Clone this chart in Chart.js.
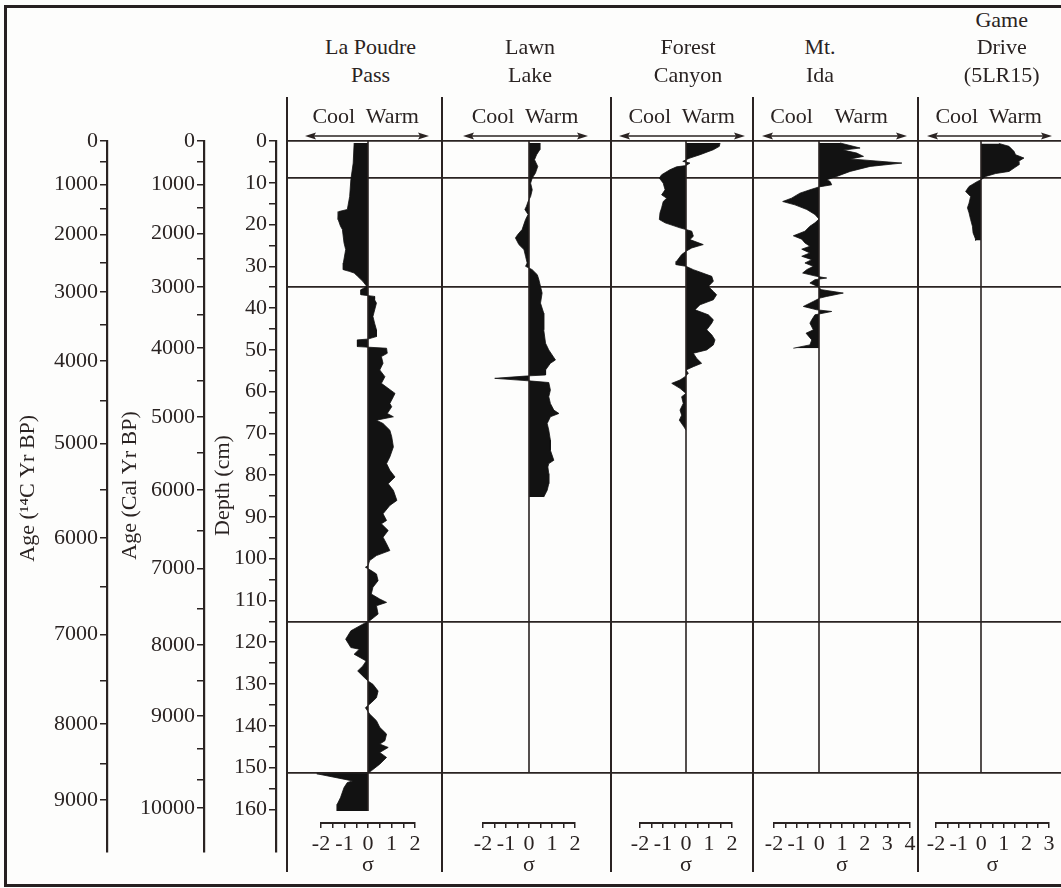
<!DOCTYPE html>
<html>
<head>
<meta charset="utf-8">
<script src="https://cdn.jsdelivr.net/npm/chart.js@4.4.1/dist/chart.umd.min.js"></script>
<style>
html,body{margin:0;padding:0;background:#fdfdfc;overflow:hidden;width:1061px;height:888px;}
#root{position:relative;width:1061px;height:888px;overflow:hidden;background:#fdfdfc;}
#frame{position:absolute;left:4px;top:5px;width:1120px;height:882px;border:3px solid #262021;box-sizing:border-box;}
.txt{position:absolute;font-family:"Liberation Serif","Times New Roman",serif;font-size:22px;line-height:22px;color:#2a2322;white-space:pre;transform:translateX(-50%);}
canvas{position:absolute;}
</style>
</head>
<body>
<div id="root"><div id="frame"></div></div>
<script>
// ---------------- DATA ----------------
const sites = ['La Poudre Pass', 'Lawn Lake', 'Forest Canyon', 'Mt. Ida', 'Game Drive (5LR15)'];
const siteTitleLines = [['La Poudre', 'Pass'], ['Lawn', 'Lake'], ['Forest', 'Canyon'], ['Mt.', 'Ida'], ['Game', 'Drive', '(5LR15)']];
const headerText = 'Cool  Warm';

// La Poudre Pass: depth (cm) and standardized anomaly (sigma)
const lpDepth = [0.6, 5.4, 9.4, 13.4, 16.5, 17.0, 18.9, 20.5, 21.3, 24.5,
  26.1, 29.3, 30.9, 31.3, 31.7, 32.5, 33.7, 34.9, 35.7, 36.9,
  37.3, 38.1, 38.9, 42.1, 43.7, 45.3, 46.9, 47.5, 47.7, 49.3,
  49.7, 50.9, 51.7, 53.3, 54.9, 56.5, 58.1, 60.5, 61.3, 62.9,
  63.7, 65.3, 66.1, 66.9, 67.7, 69.3, 70.9, 73.3, 75.7, 77.3,
  78.9, 80.5, 82.1, 83.7, 86.1, 87.3, 89.3, 90.9, 91.7, 93.3,
  94.9, 96.5, 98.1, 99.3, 100.5, 101.7, 102.1, 102.9, 103.7, 105.3,
  106.9, 108.5, 109.7, 110.5, 111.3, 113.3, 114.9, 115.7, 117.3, 119.3,
  121.3, 121.7, 122.9, 124.5, 125.7, 126.9, 128.5, 129.3, 130.1, 131.7,
  133.3, 134.5, 135.7, 137.2, 138.8, 140.4, 142.0, 143.6, 144.4, 145.2,
  146.4, 147.6, 149.2, 150.8, 151.3, 151.5, 153.2, 153.6, 154.8, 157.2,
  158.8, 160.4];
const lpSigma = [-0.59, -0.63, -0.73, -0.78, -0.88, -1.24, -1.27, -1.17, -1.09, -1.02,
  -0.95, -1.05, -1.05, -0.80, -0.59, -0.44, -0.22, -0.05, -0.30, -0.30,
  0.28, 0.28, 0.36, 0.21, 0.28, 0.36, 0.36, 0, -0.45, -0.45,
  0.79, 0.82, 0.57, 0.64, 0.50, 0.72, 0.57, 1.15, 1.08, 0.93,
  1.01, 0.82, 1.08, 0.36, 0.64, 0.93, 1.01, 1.08, 0.93, 0.79,
  0.93, 1.15, 0.86, 1.08, 1.23, 0.93, 0.64, 0.79, 0.57, 0.86,
  0.64, 0.79, 0.93, 0.36, 0.07, 0, -0.11, 0.14, 0.36, 0.43,
  0.21, 0.14, 0.50, 0.79, 0.36, 0.43, 0.07, -0.22, -0.73, -0.95,
  -0.73, -0.37, -0.59, -0.08, -0.22, -0.44, -0.15, 0, 0.21, 0.43,
  0.36, 0.14, -0.11, 0.07, 0.36, 0.50, 0.79, 0.72, 0.50, 0.86,
  0.50, 0.79, 0.50, 0.14, 0, -2.18, -0.66, -0.88, -1.02, -1.17,
  -1.31, -1.31];

// Lawn Lake
const llDepth = [0.6, 2.2, 3.4, 4.6, 6.2, 7.8, 9.0, 10.2, 11.8, 13.4,
  14.6, 15.7, 16.5, 17.7, 18.9, 21.3, 22.5, 23.3, 24.9, 26.1,
  27.7, 29.3, 30.1, 30.5, 30.9, 32.1, 33.3, 34.9, 36.5, 38.9,
  41.3, 45.3, 48.5, 50.1, 52.5, 53.3, 54.9, 56.1, 56.3, 56.9,
  57.5, 57.9, 59.7, 61.3, 62.9, 64.5, 65.3, 66.1, 67.7, 69.3,
  71.7, 74.1, 76.5, 77.3, 78.1, 79.7, 82.1, 83.7, 85.3];
const llSigma = [0.47, 0.47, 0.33, 0.24, 0.38, 0.28, 0.14, 0.07, 0.14, 0.07,
  -0.04, -0.11, -0.18, -0.04, -0.15, -0.30, -0.49, -0.59, -0.44, -0.22,
  -0.15, -0.08, -0.15, 0, 0.14, 0.36, 0.43, 0.50, 0.57, 0.50,
  0.64, 0.64, 0.72, 0.86, 1.15, 0.93, 0.72, 0.72, 0, -1.49,
  0, 0.86, 0.93, 0.86, 0.93, 1.08, 1.30, 0.93, 0.79, 0.86,
  0.93, 0.93, 1.08, 0.86, 0.82, 0.86, 0.86, 0.79, 0.64];

// Forest Canyon
const fcDepth = [0.6, 1.4, 2.2, 3.4, 4.2, 4.6, 5.0, 5.4, 6.0, 6.3,
  7.0, 8.2, 9.0, 10.2, 11.8, 13.0, 13.8, 14.6, 16.1, 17.3,
  18.9, 19.7, 20.9, 21.3, 21.7, 22.9, 23.7, 24.9, 25.7, 26.5,
  27.3, 28.9, 29.7, 30.1, 30.9, 32.5, 33.7, 34.9, 36.1, 36.9,
  38.1, 39.3, 40.5, 41.7, 42.9, 43.7, 45.3, 46.5, 47.7, 48.9,
  50.1, 50.9, 52.1, 53.3, 54.1, 54.9, 55.7, 56.5, 57.3, 58.1,
  59.3, 60.5, 61.3, 62.9, 64.5, 65.7, 66.9, 68.5, 69.3];
const fcSigma = [1.48, 1.45, 1.19, 0.61, 0.17, 0, -0.14, 0.17, 0, -0.41,
  -0.70, -1.06, -1.16, -0.99, -0.91, -1.06, -0.84, -0.99, -1.06, -1.13,
  -1.16, -0.91, -0.26, 0, 0.25, 0.32, 0.17, 0.75, 0.25, 0,
  -0.19, -0.41, -0.43, 0, 0.32, 1.12, 1.19, 0.97, 1.19, 1.33,
  1.19, 0.61, 0.39, 0.97, 1.19, 1.12, 0.90, 1.12, 1.26, 1.19,
  0.90, 0.32, 0.46, 0.68, 0.32, 0, 0.10, -0.04, -0.26, -0.62,
  -0.26, 0, -0.19, -0.12, -0.26, -0.19, -0.29, -0.09, 0];

// Mt. Ida
const miDepth = [0.6, 1.8, 2.3, 3.0, 3.8, 4.4, 5.4, 6.2, 7.4, 8.6,
  9.4, 9.8, 10.6, 11.1, 11.8, 12.6, 13.8, 14.6, 15.4, 16.5,
  17.7, 18.8, 19.7, 20.5, 21.7, 22.8, 23.6, 24.5, 25.3, 26.0,
  26.9, 27.7, 28.5, 29.3, 30.1, 30.9, 31.7, 32.5, 32.9, 33.3,
  34.1, 34.9, 35.3, 35.7, 36.5, 37.3, 37.7, 38.5, 39.7, 40.5,
  40.9, 41.7, 42.9, 43.7, 45.3, 46.1, 47.7, 48.9, 49.7];
const miSigma = [0.93, 1.81, 1.07, 1.66, 1.96, 1.37, 3.65, 2.25, 1.37, 0.78,
  0.34, 0.49, 0.56, 0, -0.40, -0.84, -1.21, -1.60, -1.06, -0.54,
  -0.18, 0, -0.18, -0.40, -0.62, -1.13, -0.76, -0.62, -0.40, -0.76,
  -0.40, -0.76, -0.32, -0.62, -0.25, -0.54, -0.72, -0.10, 0.34, -0.18,
  -0.40, -0.07, 0, 0.12, 1.07, 0.34, 0.04, -0.25, -0.69, -0.10,
  0.56, -0.18, -0.32, -0.40, -0.25, -0.57, -0.32, -0.40, -1.13];

// Game Drive (5LR15)
const gdDepth = [0.7, 1.4, 2.6, 3.4, 4.2, 5.0, 5.8, 6.6, 7.4, 7.9,
  8.6, 9.4, 9.8, 11.0, 12.2, 13.4, 15.0, 16.1, 17.3, 18.9,
  20.5, 22.1, 23.6, 23.9];
const gdSigma = [0.79, 1.24, 1.46, 1.53, 1.90, 1.65, 1.68, 1.46, 1.24, 0.65,
  0.21, 0, -0.16, -0.53, -0.68, -0.46, -0.53, -0.60, -0.53, -0.46,
  -0.38, -0.35, -0.24, -0.24];

// zone boundaries (depth, cm)
const zoneDepths = [0, 8.9, 35.0, 115.1, 151.2];

// depth axis ticks
const depthTickValues = [0, 5, 10, 15, 20, 25, 30, 35, 40, 45, 50, 55, 60, 65, 70, 75, 80, 85,
  90, 95, 100, 105, 110, 115, 120, 125, 130, 135, 140, 145, 150, 155, 160];
const depthTickLabels = ['0', '', '10', '', '20', '', '30', '', '40', '', '50', '', '60', '', '70', '', '80', '',
  '90', '', '100', '', '110', '', '120', '', '130', '', '140', '', '150', '', '160'];

// age-depth model: calibrated ages and their depths
const calAges = [0, 500, 1000, 1500, 2000, 2500, 3000, 3500, 4000, 4500, 5000, 5500,
  6000, 6500, 7000, 7500, 8000, 8500, 9000, 9500, 9750, 10000];
const calDepths = [0, 5.0, 10.4, 15.9, 22.1, 28.1, 35.0, 41.7, 49.6, 57.3, 66.1, 74.6,
  83.6, 93.2, 102.3, 111.9, 120.7, 129.3, 137.7, 145.4, 153.0, 159.7];
// radiocarbon ages and their depths
const c14Ages = [0, 500, 1000, 1500, 2000, 2500, 3000, 3500, 4000, 4500, 5000, 5500,
  6000, 6500, 7000, 7500, 8000, 8500, 9000];
const c14Depths = [0, 5.0, 10.4, 16.1, 22.4, 29.1, 36.2, 44.1, 52.7, 62.1, 72.4, 83.4,
  95.1, 106.6, 118.1, 129.1, 139.6, 149.0, 157.8];

// sigma axis ticks for each site
const sigmaTicks = [
  [-2, -1.5, -1, -0.5, 0, 0.5, 1, 1.5, 2],
  [-2, -1.5, -1, -0.5, 0, 0.5, 1, 1.5, 2],
  [-2, -1.5, -1, -0.5, 0, 0.5, 1, 1.5, 2],
  [-2, -1.5, -1, -0.5, 0, 0.5, 1, 1.5, 2, 2.5, 3, 3.5, 4],
  [-2, -1.5, -1, -0.5, 0, 0.5, 1, 1.5, 2, 2.5, 3]
];

// ---------------- LAYOUT / STYLE ----------------
const INK = '#2a2322';
const FILL = '#121212';
const FONT = "'Liberation Serif', 'Times New Roman', serif";
const Y0 = 140.5, K = 4.18;           // pixel of depth 0, pixels per cm
const depthAt = y => (y - Y0) / K;
const PANEL_TOP = 97, PANEL_BOTTOM = 872;

const PANELS = [
  {left: 287, right: 442, zero: 368, scale: 23.5, arrow: [305, 429], hdr: 365.7, titleX: 370.5, zeroEnd: 160.4},
  {left: 442, right: 611, zero: 529, scale: 23.0, arrow: [463, 588], hdr: 525, titleX: 530, zeroEnd: 151.2},
  {left: 611, right: 753, zero: 686, scale: 23.0, arrow: [619, 745], hdr: 681.7, titleX: 688, zeroEnd: 151.2},
  {left: 753, right: 918, zero: 819, scale: 22.7, arrow: [762, 907], hdr: 829, titleX: 820, zeroEnd: 151.2},
  {left: 918, right: 1075, zero: 981, scale: 22.6, arrow: [927, 1052], hdr: 988.7, titleX: 1001.7, zeroEnd: 151.2}
];
const SERIES = [[lpDepth, lpSigma], [llDepth, llSigma], [fcDepth, fcSigma], [miDepth, miSigma], [gdDepth, gdSigma]];

const root = document.getElementById('root');

function mk(left, top, w, h, cfg) {
  const c = document.createElement('canvas');
  c.width = w; c.height = h;
  c.style.left = left + 'px'; c.style.top = top + 'px';
  c.style.width = w + 'px'; c.style.height = h + 'px';
  root.appendChild(c);
  cfg.options = Object.assign({responsive: false, maintainAspectRatio: false, animation: false, events: [], devicePixelRatio: 1}, cfg.options);
  return new Chart(c, cfg);
}

function addText(str, cx, cy, extraStyle) {
  const d = document.createElement('div');
  d.className = 'txt';
  d.textContent = str;
  d.style.left = cx + 'px';
  d.style.top = (cy - 11) + 'px';
  if (extraStyle) d.style.cssText += extraStyle;
  root.appendChild(d);
}

// header arrow plugin (double-headed arrow above each panel)
const arrowPlugin = {
  id: 'hdrArrow',
  afterDraw(chart, args, o) {
    const ctx = chart.ctx;
    const x1 = o.x1 - o.cl, x2 = o.x2 - o.cl, y = o.y - o.ct;
    ctx.save();
    ctx.strokeStyle = INK; ctx.fillStyle = INK; ctx.lineWidth = 1.4;
    ctx.beginPath(); ctx.moveTo(x1 + 5, y); ctx.lineTo(x2 - 5, y); ctx.stroke();
    ctx.beginPath(); ctx.moveTo(x1, y); ctx.lineTo(x1 + 11, y - 3.5); ctx.lineTo(x1 + 9, y); ctx.lineTo(x1 + 11, y + 3.5); ctx.closePath(); ctx.fill();
    ctx.beginPath(); ctx.moveTo(x2, y); ctx.lineTo(x2 - 11, y - 3.5); ctx.lineTo(x2 - 9, y); ctx.lineTo(x2 - 11, y + 3.5); ctx.closePath(); ctx.fill();
    ctx.restore();
  }
};

// ---------------- PANELS ----------------
PANELS.forEach((P, i) => {
  const pad = 4;
  const cl = P.left - pad, ct = PANEL_TOP;
  const cw = (P.right - P.left) + 2 * pad, ch = PANEL_BOTTOM - PANEL_TOP;
  const [dep, sig] = SERIES[i];
  const pts = dep.map((d, k) => ({x: sig[k], y: d}));
  mk(cl, ct, cw, ch, {
    type: 'line',
    data: {datasets: [
      {data: [{x: 0, y: 0}, {x: 0, y: P.zeroEnd}], borderColor: INK, borderWidth: 1.6, pointRadius: 0, fill: false},
      {label: sites[i], data: pts, borderColor: FILL, borderWidth: 0.8, backgroundColor: FILL, pointRadius: 0, fill: 'origin', tension: 0}
    ]},
    options: {
      indexAxis: 'y',
      layout: {padding: {left: pad, right: pad, top: 0, bottom: 0}},
      plugins: {
        legend: {display: false}, tooltip: {enabled: false},
        hdrArrow: {x1: P.arrow[0], x2: P.arrow[1], y: 136, cl: cl, ct: ct}
      },
      scales: {
        x: {type: 'linear', min: (P.left - P.zero) / P.scale, max: (P.right - P.zero) / P.scale, display: false},
        y: {
          type: 'linear', reverse: true, position: 'left',
          min: depthAt(PANEL_TOP), max: depthAt(PANEL_BOTTOM),
          afterBuildTicks: s => { s.ticks = zoneDepths.map(v => ({value: v})); },
          ticks: {display: false},
          grid: {color: INK, lineWidth: 1.8, drawTicks: false},
          border: {display: true, color: INK, width: 2}
        }
      }
    },
    plugins: [arrowPlugin]
  });

  // sigma axis under the panel
  const tv = sigmaTicks[i];
  const lo = tv[0], hi = tv[tv.length - 1];
  const x0 = Math.round(P.zero + lo * P.scale), x1 = Math.round(P.zero + hi * P.scale);
  const spad = 20;
  mk(x0 - spad, 813, (x1 - x0) + 2 * spad, 70, {
    type: 'scatter',
    data: {datasets: []},
    options: {
      layout: {padding: {left: spad, right: spad, top: 0, bottom: 0}},
      plugins: {legend: {display: false}, tooltip: {enabled: false}},
      scales: {
        y: {display: false},
        x: {
          type: 'linear', position: 'bottom', min: lo, max: hi,
          afterBuildTicks: s => { s.ticks = tv.map(v => ({value: v})); },
          ticks: {autoSkip: false, maxRotation: 0, padding: 3, color: INK, font: {family: FONT, size: 22},
            callback: v => Number.isInteger(v) ? (v < 0 ? '-' + (-v) : String(v)) : ''},
          grid: {drawOnChartArea: false, drawTicks: true, tickLength: 5, color: INK, lineWidth: 1.5},
          border: {display: true, color: INK, width: 2},
          title: {display: true, text: 'σ', color: INK, font: {family: FONT, size: 22}, padding: {top: 0, bottom: 5}},
          afterFit: s => { s.height = 60; s.paddingLeft = 0; s.paddingRight = 0; }
        }
      }
    }
  });

  // header texts
  const lines = siteTitleLines[i];
  const ys = lines.length === 3 ? [20, 47, 75] : [47, 75];
  lines.forEach((t, k) => addText(t, P.titleX, ys[k]));
  addText(i === 3 ? 'Cool    Warm' : headerText, P.hdr, 116);
});

// ---------------- LEFT AXES ----------------
function leftAxis(axisX, titleCX, values, labels, title) {
  const L = Math.round(titleCX - 17.2);
  const W = axisX - L;
  const top = 141, bottom = 852, vpad = 20;
  mk(L, top - vpad, W + 3, (bottom - top) + 2 * vpad, {
    type: 'scatter',
    data: {datasets: []},
    options: {
      layout: {padding: {left: 0, right: 0, top: vpad, bottom: vpad}},
      plugins: {legend: {display: false}, tooltip: {enabled: false}},
      scales: {
        x: {display: false},
        y: {
          type: 'linear', position: 'left', reverse: true, min: 0, max: depthAt(bottom),
          afterBuildTicks: s => { s.ticks = values.map(v => ({value: v})); },
          ticks: {autoSkip: false, padding: 2, color: INK, font: {family: FONT, size: 22}, callback: (v, k) => labels[k]},
          grid: {drawOnChartArea: false, drawTicks: true, tickLength: 7, color: INK, lineWidth: 1.5},
          border: {display: true, color: INK, width: 2.2},
          title: {display: true, text: title, color: INK, font: {family: FONT, size: 22}, padding: {top: 4, bottom: 4}},
          afterFit: s => { s.width = W; s.paddingTop = 0; s.paddingBottom = 0; }
        }
      }
    }
  });
}

leftAxis(107, 28, c14Depths, c14Ages.map(a => a % 1000 === 0 ? String(a) : ''), '   Age (\u00b9\u2074C Yr BP)');
leftAxis(204, 130, calDepths, calAges.map(a => a % 1000 === 0 ? String(a) : ''), '    Age (Cal Yr BP)');
leftAxis(276, 223, depthTickValues, depthTickLabels, '    Depth (cm)');
</script>
</body>
</html>
